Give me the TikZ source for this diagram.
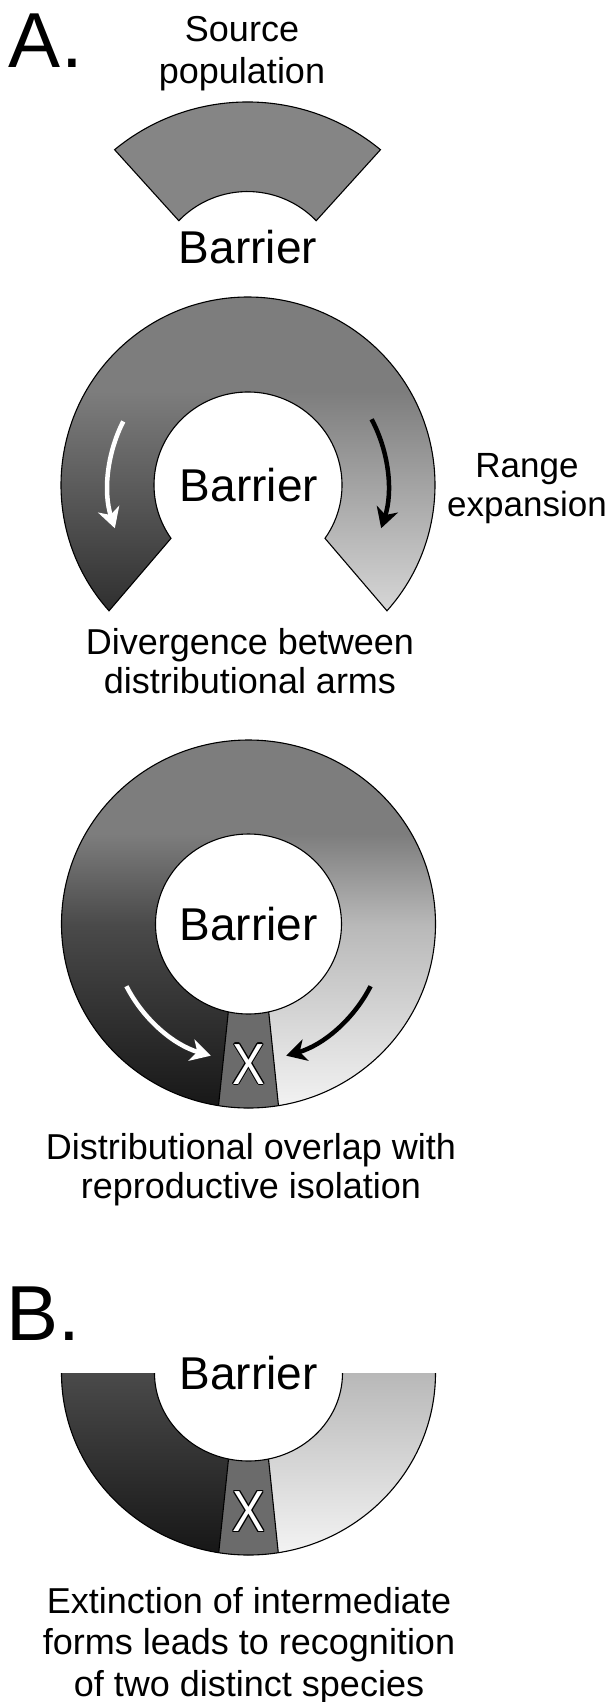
\documentclass[tikz,border=0pt]{standalone}
\usepackage{fontspec}
\setmainfont{Liberation Sans}
\usepackage{graphicx}
\usetikzlibrary{arrows.meta}

% grey levels of the ranges
\definecolor{ringtop}{HTML}{7D7D7D}
\definecolor{armAdark}{HTML}{2C2C2C}
\definecolor{armAlight}{HTML}{DADADA}
\definecolor{midleft}{HTML}{4A4A4A}
\definecolor{midright}{HTML}{B8B8B8}
\definecolor{lowleft}{HTML}{161616}
\definecolor{lowright}{HTML}{F4F4F4}
\definecolor{zonegray}{HTML}{6B6B6B}
\definecolor{sectorgray}{HTML}{858585}

% centred lines, baseline on the first line
\newcommand\stackedlines[1]{\begin{tabular}[t]{@{}c@{}}#1\end{tabular}}
% white X with a thin black rim
\newcommand\rimshift[2]{\rlap{\kern#1\raisebox{#2}{X}}}
\newcommand\rimmedX{\scalebox{0.84}[1]{\color{black}%
  \rimshift{-1.1pt}{0pt}\rimshift{1.1pt}{0pt}\rimshift{0pt}{1.1pt}\rimshift{0pt}{-1.1pt}%
  \rimshift{-.8pt}{.8pt}\rimshift{.8pt}{.8pt}\rimshift{-.8pt}{-.8pt}\rimshift{.8pt}{-.8pt}%
  \textcolor{white}{X}}}

\begin{document}
\begin{tikzpicture}[x=1pt,y=1pt,
  outline/.style={draw=black, line width=1.1pt},
  txt/.style={inner sep=0pt, outer sep=0pt, anchor=base},
  capfont/.style={font=\fontsize{36}{#1}\selectfont},
  barfont/.style={font=\fontsize{46}{50}\selectfont},
  xfont/.style={font=\fontsize{58}{60}\selectfont},
  panelfont/.style={font=\fontsize{78}{80}\selectfont},
  warrow/.style={draw=white, line width=4.5pt, -{Stealth[length=20pt,width=22pt,inset=6pt]}},
  barrow/.style={draw=black, line width=4.5pt, -{Stealth[length=20pt,width=22pt,inset=6pt]}}]
\useasboundingbox (0,0) rectangle (613,-1702);
\fill[white] (0,0) rectangle (613,-1702);

% ---------- A: source population ----------
\node[txt, anchor=base west, panelfont] (labA) at (9,-67) {A.};
\node[txt, font=\fontsize{36}{42}\selectfont] (source) at (242,-41.3) {\stackedlines{Source\\population}};
\filldraw[fill=sectorgray, outline] (114.6,-149.7) arc[start angle=129.5, end angle=50.5, radius=209]
  -- (316.2,-220.7) arc[start angle=44, end angle=136, radius=95.5] -- cycle;
\node[txt, barfont] (bar1) at (248,-263) {Barrier};

% ---------- A: range expansion round the barrier ----------
\coordinate (c1) at (248,-485);
\begin{scope}
  \clip ([shift={(222:187 and 188)}]c1) arc[start angle=222, end angle=-42, x radius=187, y radius=188]
    -- ([shift={(-35:94 and 93)}]c1) arc[start angle=-35, end angle=215, x radius=94, y radius=93] -- cycle;
  \fill[ringtop] (40,-290) rectangle (460,-392);
  \shade[top color=ringtop, bottom color=armAdark] (40,-391) rectangle (248.6,-620);
  \shade[top color=ringtop, bottom color=armAlight] (248,-391) rectangle (460,-620);
\end{scope}
\draw[outline] ([shift={(222:187 and 188)}]c1) arc[start angle=222, end angle=-42, x radius=187, y radius=188]
  -- ([shift={(-35:94 and 93)}]c1) arc[start angle=-35, end angle=215, x radius=94, y radius=93] -- cycle;
\draw[warrow] ([shift={(153:140)}]c1) arc[start angle=153, end angle=198, radius=140];
\draw[barrow] ([shift={(28:140)}]c1) arc[start angle=28, end angle=-18, radius=140];
\node[txt, barfont] (bar2) at (249,-501) {Barrier};
\node[txt, font=\fontsize{35}{39}\selectfont] (range) at (527,-477) {\stackedlines{Range\\expansion}};
\node[txt, capfont=39] (diverg) at (250,-654.5) {\stackedlines{Divergence between\\distributional arms}};

% ---------- A: closed ring with overlap zone ----------
\coordinate (c2) at (248.5,-924);
\begin{scope}
  \clip (c2) ellipse[x radius=187, y radius=184];
  \fill[ringtop] (40,-730) rectangle (460,-835);
  \shade[top color=ringtop, bottom color=midleft] (40,-834) rectangle (248.6,-924.5);
  \shade[top color=ringtop, bottom color=midright] (248,-834) rectangle (460,-924.5);
  \shade[top color=midleft, bottom color=lowleft] (40,-924) rectangle (248.6,-1112);
  \shade[top color=midright, bottom color=lowright] (248,-924) rectangle (460,-1112);
  \filldraw[fill=zonegray, outline] (231.2,-984) -- (216.6,-1124) -- (280.4,-1124) -- (265.8,-984) -- cycle;
\end{scope}
\filldraw[fill=white, outline] (c2) ellipse[x radius=93, y radius=90];
\draw[outline] (c2) ellipse[x radius=187, y radius=184];
\draw[warrow] ([shift={(207:137)}]c2) arc[start angle=207, end angle=254, radius=137];
\draw[barrow] ([shift={(-27:137)}]c2) arc[start angle=-27, end angle=-74, radius=137];
\node[txt, barfont] (bar3) at (248.5,-940) {Barrier};
\node[txt, xfont] (x1) at (248.8,-1084) {\rimmedX};
\node[txt, capfont=39] (overlap) at (251,-1159) {\stackedlines{Distributional overlap with\\reproductive isolation}};

% ---------- B: intermediate forms gone ----------
\node[txt, anchor=base west, panelfont] (labB) at (6,-1340) {B.};
\coordinate (c3) at (248.5,-1373);
\begin{scope}
  \clip (40,-1373) rectangle (460,-1570);
  \clip (c3) ellipse[x radius=187, y radius=182];
  \shade[top color=midleft, bottom color=lowleft] (40,-1373) rectangle (248.6,-1556);
  \shade[top color=midright, bottom color=lowright] (248,-1373) rectangle (460,-1556);
  \filldraw[fill=zonegray, outline] (231.2,-1433) -- (216.6,-1573) -- (280.4,-1573) -- (265.8,-1433) -- cycle;
  \fill[white] (c3) ellipse[x radius=94, y radius=88];
\end{scope}
\draw[outline] ([shift={(180:187 and 182)}]c3) arc[start angle=180, end angle=360, x radius=187, y radius=182];
\draw[outline] ([shift={(180:94 and 88)}]c3) arc[start angle=180, end angle=360, x radius=94, y radius=88];
\node[txt, barfont] (bar4) at (248.5,-1389) {Barrier};
\node[txt, xfont] (x2) at (248.8,-1531.7) {\rimmedX};
\node[txt, capfont=41.5] (extinct) at (249,-1613) {\stackedlines{Extinction of intermediate\\forms leads to recognition\\of two distinct species}};
\end{tikzpicture}
\end{document}
